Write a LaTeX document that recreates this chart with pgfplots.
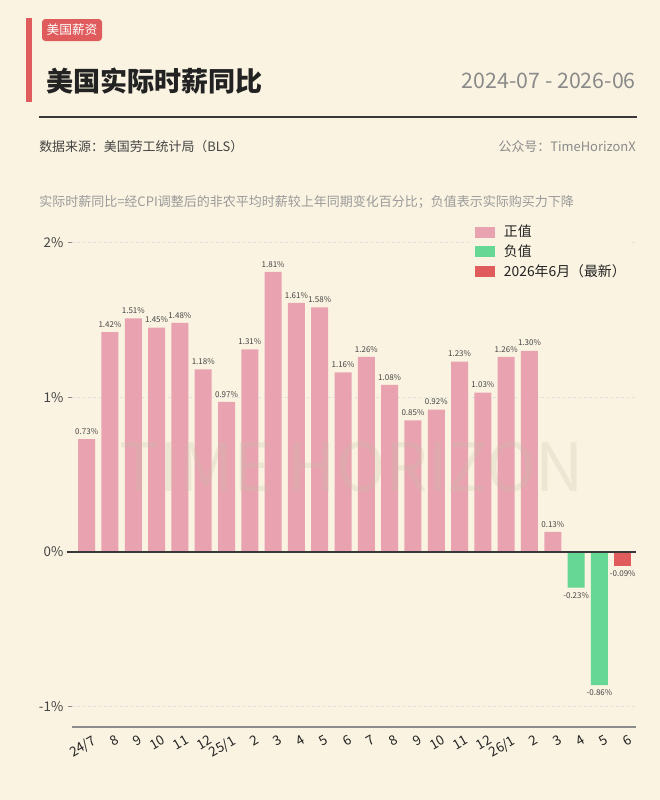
\documentclass[border=0pt]{standalone}
\usepackage{fontspec}
\setmainfont{Noto Sans CJK SC}
\usepackage{pgfplots}
\pgfplotsset{compat=1.18}
\definecolor{bg}{HTML}{FAF3E1}
\definecolor{accent}{HTML}{E05C5C}
\definecolor{pinkc}{HTML}{E8A2B0}
\definecolor{greenc}{HTML}{66D794}
\definecolor{redc}{HTML}{E05C5C}
\definecolor{titlec}{HTML}{222222}
\definecolor{datec}{HTML}{8A8A8A}
\definecolor{srcc}{HTML}{444444}
\definecolor{notec}{HTML}{9A9A9A}
\definecolor{labc}{HTML}{444444}
\definecolor{wmc}{HTML}{C8C0A8}
\pgfplotsset{/pgf/number format/assume math mode=true}
\begin{document}
\begin{tikzpicture}
\begin{scope}[x=0.75pt,y=-0.75pt]
\fill[bg] (0,0) rectangle (660,800);
\fill[accent] (26,18) rectangle (32,102);
\fill[accent, rounded corners=2.5pt] (42,19) rectangle (102,41);
\node[inner sep=0, text=white, font=\fontsize{9.5}{10}\selectfont] at (72,30) {美国薪资};
\node[inner sep=0, anchor=west, font=\fontsize{20.3}{22}\selectfont\bfseries, text=titlec] at (46,81) {美国实际时薪同比};
\node[inner sep=0, anchor=east, font=\fontsize{16}{17}\selectfont, text=datec] at (636,81) {2024-07 - 2026-06};
\draw[line width=1.4pt, color=titlec!90] (39,117) -- (637,117);
\node[inner sep=0, anchor=west, font=\fontsize{9.7}{11}\selectfont, text=srcc] at (39,147) {数据来源：美国劳工统计局（BLS）};
\node[inner sep=0, anchor=east, font=\fontsize{9.7}{11}\selectfont, text=datec] at (636,147) {公众号：TimeHorizonX};
\node[inner sep=0, anchor=west, font=\fontsize{9.75}{11}\selectfont, text=notec] at (39,202) {实际时薪同比=经CPI调整后的非农平均时薪较上年同期变化百分比；负值表示实际购买力下降};
\end{scope}
\begin{axis}[
  at={(54pt,-545.25pt)}, anchor=south west,
  scale only axis, width=423pt, height=375pt,
  xmin=-0.63, xmax=23.57, ymin=-1.131, ymax=2.1,
  ybar, bar width=12.75pt,
  axis x line*=bottom, axis y line*=left,
  separate axis lines,
  x axis line style={draw=black!45, line width=0.8pt, -},
  y axis line style={draw=none},
  xtick={0,...,23},
  xticklabels={24/7,8,9,10,11,12,25/1,2,3,4,5,6,7,8,9,10,11,12,26/1,2,3,4,5,6},
  xtick style={draw=none},
  x tick label style={rotate=30, anchor=north east, font=\fontsize{10}{11}\selectfont, text=titlec, inner sep=1pt, xshift=3pt, yshift=-3pt},
  ytick={-1,0,1,2},
  yticklabels={-1\%,0\%,1\%,2\%},
  y tick label style={font=\fontsize{10}{11}\selectfont, text=srcc},
  ytick style={draw=black!45, line width=0.6pt},
  tick align=outside, major tick length=3pt,
  ymajorgrids,
  grid style={dashed, dash pattern=on 2pt off 2pt, draw=black!12, line width=0.5pt},
  nodes near coords={\pgfmathprintnumber[fixed,fixed zerofill,precision=2]{\pgfplotspointmeta}\%},
  every node near coord/.append style={font=\fontsize{6}{7}\selectfont, text=labc},
  clip=false,
  legend cell align=left,
  legend style={at={(0.711,1.012)}, anchor=north west, fill=bg, draw=none,
    font=\fontsize{10.4}{11}\selectfont, text=titlec, row sep=0.5pt, inner sep=1pt,
    /tikz/every odd column/.append style={column sep=5pt}},
  legend image code/.code={\fill[#1] (0pt,-4.1pt) rectangle (15pt,4.1pt);},
]
\addplot[fill=pinkc, draw=none, bar shift=0pt] coordinates {
(0,0.73) (1,1.42) (2,1.51) (3,1.45) (4,1.48) (5,1.18) (6,0.97) (7,1.31) (8,1.81) (9,1.61) (10,1.58) (11,1.16) (12,1.26) (13,1.08) (14,0.85) (15,0.92) (16,1.23) (17,1.03) (18,1.26) (19,1.30) (20,0.13)};
\addlegendentry{正值}
\addplot[fill=greenc, draw=none, bar shift=0pt] coordinates {(21,-0.23) (22,-0.86)};
\addlegendentry{负值}
\addplot[fill=redc, draw=none, bar shift=0pt] coordinates {(23,-0.09)};
\addlegendentry{2026年6月（最新）}
\draw[color=titlec!90, line width=0.9pt] (axis cs:-0.845,0) -- (axis cs:23.57,0);
\end{axis}
\begin{scope}[x=0.75pt,y=-0.75pt]
\node[inner sep=0, font=\fontsize{50}{60}\selectfont, text=wmc, opacity=0.25] at (352,467) {TIME HORIZON};
\end{scope}
\pgfresetboundingbox
\useasboundingbox (0,0) rectangle (495pt,-600pt);
\end{tikzpicture}
\end{document}
